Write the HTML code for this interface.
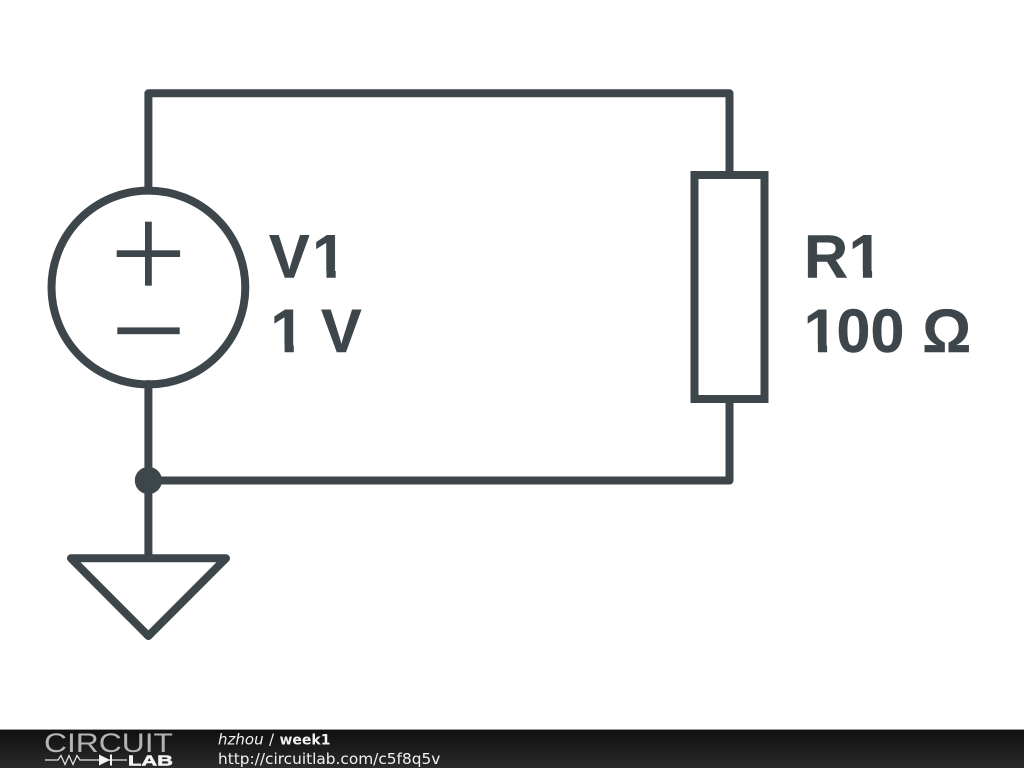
<!DOCTYPE html>
<html>
<head>
<meta charset="utf-8">
<style>
html,body{margin:0;padding:0;background:#fff;width:1024px;height:768px;overflow:hidden}
svg{display:block}
</style>
</head>
<body>
<svg width="1024" height="768" viewBox="0 0 1024 768" xmlns="http://www.w3.org/2000/svg">
<defs>
<linearGradient id="bar" x1="0" y1="0" x2="0" y2="1">
<stop offset="0" stop-color="#0f0f0f"/>
<stop offset="0.5" stop-color="#1c1c1c"/>
<stop offset="1" stop-color="#2c2c2c"/>
</linearGradient>
</defs>
<rect width="1024" height="768" fill="#fff"/>
<g fill="none" stroke="#3d464b" stroke-width="8" stroke-linecap="round" stroke-linejoin="round">
<path d="M148.4 190V93.3H729.5V175"/>
<path d="M729.5 399V480.5H148.4"/>
<path d="M148.4 384V558"/>
<circle cx="148.4" cy="287.5" r="96.9"/>
<rect x="694.5" y="175" width="70" height="224" stroke-linejoin="miter"/>
<path d="M71 558.3H226L148.4 636Z"/>
</g>
<g fill="#3d464b">
<rect x="116.7" y="250.3" width="63.4" height="6.7"/>
<rect x="145" y="221.7" width="6.8" height="64"/>
<rect x="117.3" y="327.4" width="62.4" height="6.8"/>
<circle cx="148.4" cy="480.5" r="13.6"/>
</g>
<g font-family="'Liberation Sans',Arial,sans-serif" font-weight="700" font-size="61" fill="#3d464b" stroke="#3d464b" stroke-width="0.4">
<text x="269 312.3" y="277.7">V1</text>
<text x="270.4 0 321" y="352">1 V</text>
<text x="804 848.7" y="277.7">R1</text>
<text x="803.7 836.5 870.5 0 922.2" y="352">100 Ω</text>
</g>
<g fill="#fff">
<rect x="313.3" y="270.7" width="13.2" height="8"/><rect x="335.7" y="270.7" width="11" height="8"/>
<rect x="271.4" y="345" width="13.2" height="8"/><rect x="293.8" y="345" width="11" height="8"/>
<rect x="849.7" y="270.7" width="13.2" height="8"/><rect x="872.1" y="270.7" width="11" height="8"/>
<rect x="804.7" y="345" width="13.2" height="8"/><rect x="827.1" y="345" width="9.4" height="8"/>
</g>
<rect x="0" y="729" width="1024" height="39" fill="url(#bar)"/>
<rect x="0" y="729" width="1024" height="1" fill="#9a9a9a"/>
<text x="44" y="752" font-family="'Liberation Sans',Arial,sans-serif" font-size="26.5" fill="#b4b4b4" textLength="129" lengthAdjust="spacingAndGlyphs">CIRCUIT</text>
<text x="128" y="765.5" font-family="'Liberation Sans',Arial,sans-serif" font-size="14.3" font-weight="700" fill="#f4f4f4" stroke="#f4f4f4" stroke-width="0.5" textLength="45" lengthAdjust="spacingAndGlyphs">LAB</text>
<path d="M45 760H58L61 755.5L65 764.5L69 755.5L73 764.5L77 755.5L80 760H127" fill="none" stroke="#e8e8e8" stroke-width="1.2"/>
<path d="M99 754.5L110 760L99 765.5Z" fill="#f4f4f4"/>
<rect x="110" y="754.5" width="2" height="11" fill="#f4f4f4"/>
<g font-family="'DejaVu Sans',sans-serif" fill="#f2f2f2">
<text x="218" y="744.3" font-size="15" font-style="italic">hzhou</text>
<text x="269" y="744.3" font-size="15">/</text>
<text x="279.5" y="744.3" font-size="14" font-weight="700">week1</text>
<text x="218" y="764" font-size="15.35">http://circuitlab.com/c5f8q5v</text>
</g>
</svg>
</body>
</html>
